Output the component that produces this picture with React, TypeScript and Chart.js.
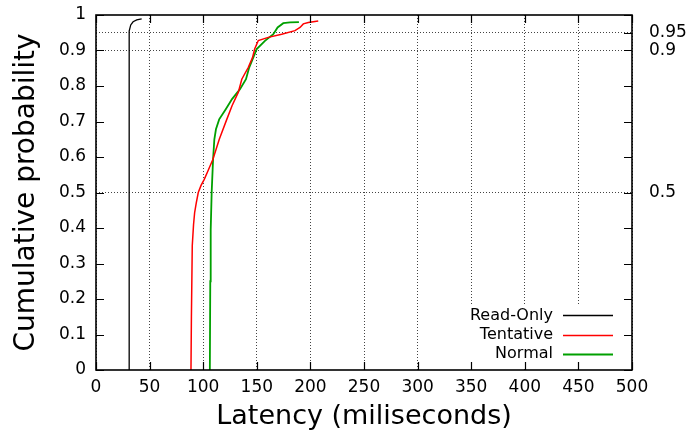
import React, { useEffect, useRef } from 'react';
import { Chart, registerables } from 'chart.js';

Chart.register(...registerables);

// ---- data (latency in ms, cumulative probability) ----
const readOnlyLatency = [30.8, 30.8, 30.8, 30.9, 31.3, 32.4, 34.6, 38.0, 42.6];
const readOnlyProb = [0, 0.3, 0.6, 0.9, 0.955, 0.972, 0.981, 0.986, 0.989];

const tentativeLatency = [88.6, 89, 89.8, 91, 92, 93.5, 95.4, 98, 101, 105, 109, 115, 122, 127, 132.7, 136, 142, 146, 148, 151.4, 160.7, 173.2, 185.6, 190.3, 193.4, 198, 207.3];
const tentativeProb = [0, 0.15, 0.35, 0.41, 0.443, 0.47, 0.5, 0.52, 0.537, 0.565, 0.593, 0.65, 0.706, 0.745, 0.782, 0.819, 0.852, 0.88, 0.904, 0.928, 0.937, 0.946, 0.956, 0.965, 0.975, 0.979, 0.983];

const normalLatency = [106.2, 106.6, 107.0, 107.9, 109.2, 110.4, 111.9, 114.9, 120.9, 126.9, 131.9, 134.3, 139.9, 142.9, 149.9, 157.6, 165.4, 169.4, 174.7, 181, 189.3];
const normalProb = [0, 0.25, 0.395, 0.5, 0.593, 0.65, 0.678, 0.706, 0.734, 0.763, 0.782, 0.791, 0.819, 0.852, 0.904, 0.927, 0.946, 0.965, 0.977, 0.979, 0.98];

const seriesLabels = ['Read-Only', 'Tentative', 'Normal'];
const seriesColors = ['#000000', '#ff0000', '#00a000'];

const xTickValues = [0, 50, 100, 150, 200, 250, 300, 350, 400, 450, 500];
const leftTickValues = [0, 0.1, 0.2, 0.3, 0.4, 0.5, 0.6, 0.7, 0.8, 0.9, 1];
const rightTickValues = [0.5, 0.9, 0.95];

const xTitle = 'Latency (miliseconds)';
const yTitle = 'Cumulative probability';

const FONT = 'DejaVu Sans';

function toPoints(xs: number[], ys: number[]) {
  return xs.map((x, i) => ({ x, y: ys[i] }));
}

const gnuplotFrame = {
  id: 'gnuplotFrame',
  afterDatasetsDraw(chart: any) {
    const ctx = chart.ctx;
    const area = chart.chartArea;
    const lineEnd = area.right - 19;
    const lineStart = lineEnd - 50;
    const textRight = lineStart - 10;
    const rowGap = 19.3;
    const n = chart.data.datasets.length;
    const firstRow = area.bottom - 16 - (n - 1) * rowGap;
    ctx.save();
    ctx.fillStyle = '#ffffff';
    ctx.fillRect(textRight - 92, firstRow - 10, lineEnd + 7 - (textRight - 92), area.bottom - 1 - (firstRow - 10));
    ctx.font = `16px "${FONT}"`;
    ctx.textAlign = 'right';
    ctx.textBaseline = 'middle';
    chart.data.datasets.forEach((ds: any, i: number) => {
      const y = firstRow + i * rowGap;
      ctx.fillStyle = '#000';
      ctx.fillText(ds.label, textRight, y);
      ctx.strokeStyle = ds.borderColor;
      ctx.lineWidth = ds.borderWidth;
      ctx.beginPath();
      ctx.moveTo(lineStart, Math.round(y) + 0.5);
      ctx.lineTo(lineEnd, Math.round(y) + 0.5);
      ctx.stroke();
    });
    ctx.restore();
  },
  afterDraw(chart: any) {
    const ctx = chart.ctx;
    const { left, right, top, bottom } = chart.chartArea;
    const xs = chart.scales.x;
    const ys = chart.scales.y;
    const tl = 8;
    ctx.save();
    ctx.strokeStyle = '#000';
    ctx.lineWidth = 1.2;
    ctx.beginPath();
    xTickValues.forEach((v) => {
      const px = Math.round(xs.getPixelForValue(v)) + 0.5;
      ctx.moveTo(px, bottom);
      ctx.lineTo(px, bottom - tl);
      ctx.moveTo(px, top);
      ctx.lineTo(px, top + tl);
    });
    leftTickValues.forEach((v) => {
      const py = Math.round(ys.getPixelForValue(v)) + 0.5;
      ctx.moveTo(left, py);
      ctx.lineTo(left + tl, py);
      ctx.moveTo(right, py);
      ctx.lineTo(right - tl, py);
    });
    rightTickValues.forEach((v) => {
      const py = Math.round(ys.getPixelForValue(v)) + 0.5;
      ctx.moveTo(right, py);
      ctx.lineTo(right - tl, py);
    });
    ctx.stroke();
    ctx.lineWidth = 1.6;
    ctx.strokeRect(left, top, right - left, bottom - top);
    ctx.restore();
  },
};

export default function App() {
  const canvasRef = useRef<HTMLCanvasElement | null>(null);

  useEffect(() => {
    const canvas = canvasRef.current;
    if (!canvas) return;
    const series = [
      toPoints(readOnlyLatency, readOnlyProb),
      toPoints(tentativeLatency, tentativeProb),
      toPoints(normalLatency, normalProb),
    ];
    const widths = [1.3, 1.5, 1.8];
    const zeroPad = (s: any) => {
      s.paddingTop = 0;
      s.paddingBottom = 0;
      s.paddingLeft = 0;
      s.paddingRight = 0;
    };
    const chart = new Chart(canvas, {
      type: 'scatter',
      data: {
        datasets: series.map((pts, i) => ({
          label: seriesLabels[i],
          data: pts,
          showLine: true,
          borderColor: seriesColors[i],
          backgroundColor: seriesColors[i],
          borderWidth: widths[i],
          pointRadius: 0,
          tension: 0,
        })),
      },
      options: {
        animation: false,
        responsive: false,
        devicePixelRatio: 1,
        layout: { padding: { top: 15, left: 0, right: 0, bottom: 0 } },
        plugins: {
          legend: { display: false },
          tooltip: { enabled: false },
        },
        scales: {
          x: {
            type: 'linear',
            position: 'bottom',
            min: 0,
            max: 500,
            afterBuildTicks: (s: any) => {
              s.ticks = xTickValues.map((v) => ({ value: v }));
            },
            afterFit: (s: any) => {
              s.height = 62;
              zeroPad(s);
            },
            ticks: {
              autoSkip: false,
              maxRotation: 0,
              padding: 7,
              color: '#000',
              font: { family: FONT, size: 17 },
              callback: (v: any) => String(v),
            },
            grid: { display: true, drawTicks: false, color: '#444', lineWidth: 1 },
            border: { display: false, dash: [1, 2] },
            title: {
              display: true,
              text: xTitle,
              color: '#000',
              font: { family: FONT, size: 27, lineHeight: 1 },
              padding: { top: 0, bottom: 2 },
            },
          },
          y: {
            type: 'linear',
            position: 'left',
            min: 0,
            max: 1,
            afterBuildTicks: (s: any) => {
              s.ticks = leftTickValues.map((v) => ({ value: v }));
            },
            afterFit: (s: any) => {
              s.width = 96;
              zeroPad(s);
            },
            ticks: {
              autoSkip: false,
              padding: 10,
              color: '#000',
              font: { family: FONT, size: 17 },
              callback: (v: any) => String(v),
            },
            grid: { display: false, drawTicks: false },
            border: { display: false },
            title: {
              display: true,
              text: yTitle,
              color: '#000',
              font: { family: FONT, size: 28, lineHeight: 1 },
              padding: { top: 13, bottom: 0 },
            },
          },
          y2: {
            type: 'linear',
            position: 'right',
            min: 0,
            max: 1,
            afterBuildTicks: (s: any) => {
              s.ticks = rightTickValues.map((v) => ({ value: v }));
            },
            afterFit: (s: any) => {
              s.width = 57;
              zeroPad(s);
            },
            ticks: {
              autoSkip: false,
              padding: 17,
              color: '#000',
              font: { family: FONT, size: 17 },
              callback: (v: any) => String(v),
            },
            grid: { display: true, drawOnChartArea: true, drawTicks: false, color: '#444', lineWidth: 1 },
            border: { display: false, dash: [1, 2] },
          },
        },
      },
      plugins: [gnuplotFrame],
    } as any);
    return () => chart.destroy();
  }, []);

  return (
    <canvas
      ref={canvasRef}
      width={689}
      height={432}
      style={{ position: 'absolute', left: 0, top: 0, display: 'block' }}
    />
  );
}
